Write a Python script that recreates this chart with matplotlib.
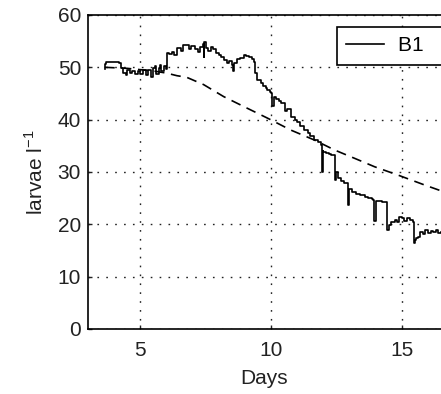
import numpy as np
import matplotlib.pyplot as plt

plt.rcParams['font.family'] = ['Liberation Sans', 'DejaVu Sans']

b1_days = [3.64, 3.66, 3.70, 4.00, 4.20, 4.25, 4.35, 4.45, 4.50, 4.60, 4.70, 4.80,
           4.90, 5.00, 5.10, 5.20, 5.30, 5.40, 5.50, 5.55, 5.60, 5.70, 5.75, 5.80,
           5.90, 6.00, 6.04, 6.10, 6.20, 6.30, 6.40, 6.46, 6.55, 6.65, 6.77, 6.85,
           6.95, 7.10, 7.20, 7.30, 7.40, 7.42, 7.45, 7.50, 7.60, 7.70, 7.80, 7.90,
           8.00, 8.10, 8.20, 8.32, 8.40, 8.50, 8.55, 8.60, 8.70, 8.80, 8.96, 9.05,
           9.15, 9.28, 9.35, 9.40, 9.48, 9.60, 9.70, 9.80, 9.86, 9.95, 10.00, 10.05,
           10.10, 10.20, 10.30, 10.40, 10.50, 10.55, 10.60, 10.76, 10.90, 11.00, 11.10,
           11.28, 11.40, 11.50, 11.66, 11.80, 11.92, 11.95, 11.97, 12.00, 12.10, 12.20,
           12.30, 12.43, 12.45, 12.48, 12.55, 12.68, 12.80, 12.94, 12.96, 12.98, 13.10,
           13.25, 13.40, 13.58, 13.70, 13.85, 13.90, 13.92, 14.00, 14.10, 14.25, 14.42,
           14.44, 14.50, 14.60, 14.74, 14.80, 14.90, 15.00, 15.10, 15.20, 15.30, 15.44,
           15.46, 15.50, 15.55, 15.63, 15.70, 15.80, 15.90, 16.00, 16.10, 16.20, 16.30,
           16.40, 16.50]
b1_larvae = [49.6, 50.6, 51.0, 51.0, 50.8, 49.8, 49.0, 48.6, 49.4, 48.9, 49.3, 48.7,
             49.2, 48.8, 49.4, 48.6, 49.5, 48.2, 49.8, 50.2, 48.8, 49.9, 50.5, 49.3,
             50.2, 49.7, 52.7, 52.5, 52.9, 52.4, 53.6, 53.7, 53.2, 54.3, 54.3, 53.5,
             54.0, 53.5, 53.0, 53.9, 54.5, 52.0, 54.8, 53.6, 53.2, 53.8, 53.5, 52.8,
             52.4, 51.9, 51.4, 50.8, 51.2, 50.4, 49.3, 50.9, 51.6, 51.8, 52.4, 52.1,
             51.9, 51.5, 51.0, 48.9, 47.6, 47.0, 46.5, 46.0, 45.7, 45.2, 45.0, 42.6,
             44.4, 44.0, 43.6, 43.2, 43.2, 41.6, 42.0, 40.6, 40.0, 39.5, 38.8,
             38.0, 37.5, 36.9, 36.1, 35.8, 35.2, 30.0, 34.0, 33.8, 33.6, 33.5,
             33.2, 32.9, 28.5, 30.0, 28.8, 28.2, 27.8, 27.2, 23.7, 26.8, 26.2,
             25.8, 25.6, 25.3, 25.0, 24.8, 24.6, 20.6, 24.4, 24.5, 24.2, 24.3,
             18.9, 19.8, 20.4, 20.8, 20.5, 21.4, 21.3, 20.6, 21.2, 20.9, 20.4,
             16.4, 17.0, 17.4, 17.6, 18.6, 18.2, 18.9, 18.4, 18.8, 18.5, 18.9,
             18.3, 18.6]

# model curve (dashed line)
model_days = [3.64, 4.5, 5.5, 6.0, 6.4, 6.77, 7.42, 8.19, 8.96, 9.86, 10.76,
              11.66, 12.43, 13.2, 13.96, 14.86, 15.88, 16.5]
model_larvae = [50.0, 49.8, 49.3, 48.9, 48.4, 48.1, 46.7, 44.4, 42.5, 40.3, 38.0,
                36.1, 34.2, 32.6, 31.0, 29.4, 27.5, 26.4]

fig = plt.figure(figsize=(4.41, 3.94), dpi=100)
ax = fig.add_axes([0.1995, 0.165, 0.8005, 0.797])

ax.plot(b1_days, b1_larvae, color='black', lw=1.2, drawstyle='steps-post', label='B1   ')
ax.plot(model_days, model_larvae, color='black', lw=1.2, linestyle=(0, (6, 4)))

ax.set_xlim(3.0, 16.5)
ax.set_ylim(0, 60)
ax.set_xticks([5, 10, 15])
ax.set_yticks(range(0, 61, 10))
ax.grid(True, linestyle=(0, (1.2, 5.2)), color='#222222', lw=1.0)
ax.tick_params(direction='in', length=3, labelsize=15, colors='#222222', width=1.0)
ax.tick_params(axis='x', pad=9)
ax.tick_params(axis='y', pad=5)
for side in ['left', 'bottom', 'top']:
    ax.spines[side].set_linewidth(1.2)
ax.spines['right'].set_visible(False)

ax.set_xlabel('Days', fontsize=15, color='#222222', labelpad=6)
ax.set_ylabel('larvae l$^{\\mathregular{-1}}$', fontsize=15, color='#222222', labelpad=8)

leg = ax.legend(loc='upper left', bbox_to_anchor=(0.705, 0.962), fontsize=15,
                frameon=True, fancybox=False, handlelength=1.8, borderpad=0.45,
                handletextpad=0.7, borderaxespad=0)
leg.get_frame().set_edgecolor('black')
leg.get_frame().set_linewidth(1.2)
leg.get_frame().set_alpha(1)

fig.savefig('out.png', dpi=100)
